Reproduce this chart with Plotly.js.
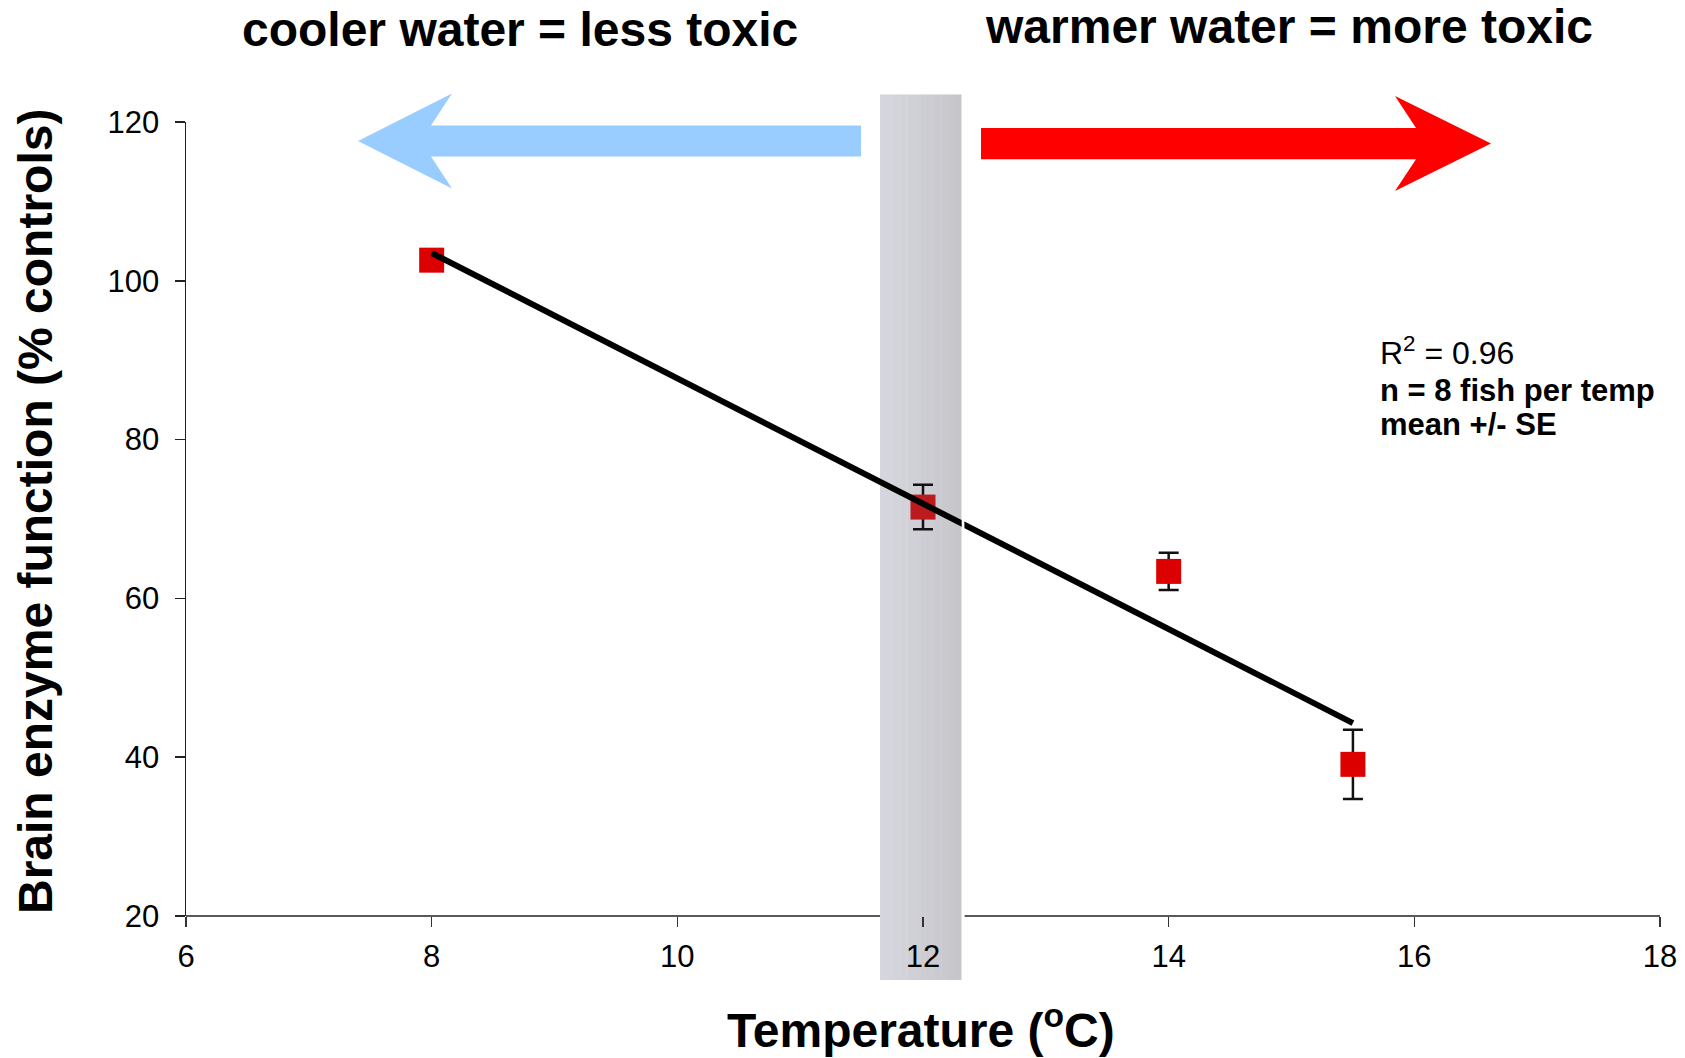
<!DOCTYPE html>
<html>
<head>
<meta charset="utf-8">
<script src="https://cdn.plot.ly/plotly-3.0.1.min.js"></script>
<style>
  html, body { margin: 0; padding: 0; background: #ffffff; }
  #chart { width: 1685px; height: 1058px; }
</style>
</head>
<body>
<div id="chart"></div>
<script>
// ---- data ----
const temperatureC = [8, 12, 14, 15.5];
const enzymePct = [102.6, 71.5, 63.4, 39.1];
const enzymeSE = [0, 2.8, 2.35, 4.35];
const trendX = [8, 15.5];
const trendY = [103.5, 44.3];
const xTickVals = [6, 8, 10, 12, 14, 16, 18];
const yTickVals = [20, 40, 60, 80, 100, 120];
const bandTemps = [11.65, 12.315];
const coolLabel = 'cooler water = less toxic';
const warmLabel = 'warmer water = more toxic';
const statLines = ['R<sup>2</sup> = 0.96', 'n = 8 fish per temp', 'mean +/- SE'];

// ---- layout geometry ----
const W = 1685, H = 1058;
const M = { l: 186, r: 25, t: 122, b: 142 };
const PW = W - M.l - M.r, PH = H - M.t - M.b;
const xRange = [6, 18], yRange = [20, 120];
const px = x => (x - M.l) / PW;            // page pixel -> paper x
const py = y => (H - M.b - y) / PH;        // page pixel -> paper y
const dx = v => (v - xRange[0]) / (xRange[1] - xRange[0]); // data -> paper x

const FONT = 'Arial, "Liberation Sans", Helvetica, sans-serif';

const shapes = [];
// grey band with a light horizontal gradient
const bandTop = py(94.6), bandBot = py(980);
const nStrips = 12;
const c0 = [214, 214, 222], c1 = [198, 198, 203];
for (let i = 0; i < nStrips; i++) {
  const t = i / (nStrips - 1);
  const c = c0.map((v, k) => Math.round(v + (c1[k] - v) * t));
  const a = dx(bandTemps[0]) + (dx(bandTemps[1]) - dx(bandTemps[0])) * i / nStrips;
  const b = dx(bandTemps[0]) + (dx(bandTemps[1]) - dx(bandTemps[0])) * (i + 1) / nStrips + 0.0003;
  shapes.push({ type: 'rect', xref: 'paper', yref: 'paper', x0: a, x1: Math.min(b, dx(bandTemps[1])),
    y0: bandBot, y1: bandTop, fillcolor: `rgb(${c.join(',')})`, line: { width: 0 }, layer: 'below' });
}
// x axis line drawn in two parts (hidden behind the band)
const gap = 2.7 / PW;
shapes.push({ type: 'line', xref: 'paper', yref: 'paper', x0: 0, x1: dx(bandTemps[0]), y0: 0, y1: 0,
  line: { color: '#222', width: 1.5 }, layer: 'above' });
shapes.push({ type: 'line', xref: 'paper', yref: 'paper', x0: dx(bandTemps[1]) + gap, x1: 1, y0: 0, y1: 0,
  line: { color: '#222', width: 1.5 }, layer: 'above' });
// thin white gap at the band's right edge
shapes.push({ type: 'rect', xref: 'paper', yref: 'paper', x0: dx(bandTemps[1]), x1: dx(bandTemps[1]) + gap,
  y0: bandBot, y1: bandTop, fillcolor: '#ffffff', line: { width: 0 }, layer: 'above' });

// arrows (page pixel outlines)
function arrowPath(pts) {
  return 'M' + pts.map(p => `${px(p[0])},${py(p[1])}`).join(' L') + ' Z';
}
shapes.push({ type: 'path', xref: 'paper', yref: 'paper', layer: 'above',
  path: arrowPath([[358, 141], [452, 93.5], [431, 125.5], [861, 125.5], [861, 156.5], [431, 156.5], [452, 188.5]]),
  fillcolor: '#99ccff', line: { width: 0 } });
shapes.push({ type: 'path', xref: 'paper', yref: 'paper', layer: 'above',
  path: arrowPath([[1491, 143.5], [1395, 96], [1416, 128], [981, 128], [981, 159.3], [1416, 159.3], [1395, 191]]),
  fillcolor: '#ff0000', line: { width: 0 } });

const annotations = [
  { text: '<b>' + coolLabel + '</b>', x: px(519.6), y: py(29), font: { size: 48, color: '#000', family: FONT } },
  { text: '<b>' + warmLabel + '</b>', x: px(1288.5), y: py(27), font: { size: 48, color: '#000', family: FONT } },
  { text: '<b>Temperature (<sup>o</sup>C)</b>', x: px(921), y: py(1027), font: { size: 48, color: '#000', family: FONT } },
  { text: '<b>Brain enzyme function (% controls)</b>', x: px(36), y: py(512), textangle: -90,
    font: { size: 48, color: '#000', family: FONT } },
  { text: statLines[0], x: px(1378), y: py(351), xanchor: 'left', font: { size: 32, color: '#000', family: FONT } },
  { text: '<b>' + statLines[1] + '</b>', x: px(1378), y: py(391), xanchor: 'left', font: { size: 31, color: '#000', family: FONT } },
  { text: '<b>' + statLines[2] + '</b>', x: px(1378), y: py(425), xanchor: 'left', font: { size: 31, color: '#000', family: FONT } }
].map(a => Object.assign({ xref: 'paper', yref: 'paper', showarrow: false, xanchor: 'center', yanchor: 'middle' }, a));

const traces = [
  {
    type: 'scatter', mode: 'markers', x: temperatureC, y: enzymePct,
    marker: { symbol: 'square', size: 25, color: ['#dd0000', '#bb1a1e', '#dd0000', '#dd0000'], line: { width: 0 } },
    error_y: { type: 'data', array: enzymeSE, visible: true, color: '#111', thickness: 2.5, width: 10 },
    hoverinfo: 'x+y', cliponaxis: false
  },
  {
    type: 'scatter', mode: 'lines', x: trendX, y: trendY,
    line: { color: '#000', width: 6 }, hoverinfo: 'skip'
  }
];

const layout = {
  width: W, height: H,
  margin: M,
  paper_bgcolor: '#ffffff', plot_bgcolor: 'rgba(0,0,0,0)',
  showlegend: false,
  font: { family: FONT, color: '#000' },
  xaxis: {
    range: xRange, tickvals: xTickVals, ticktext: xTickVals.map(String),
    showgrid: false, zeroline: false, showline: false,
    ticks: 'outside', ticklen: 10, tickwidth: 1.5, tickcolor: '#333',
    ticklabelstandoff: 3,
    tickfont: { size: 31, color: '#000', family: FONT }
  },
  yaxis: {
    range: yRange, tickvals: yTickVals, ticktext: yTickVals.map(String),
    showgrid: false, zeroline: false, showline: true, linecolor: '#222', linewidth: 1.5,
    ticks: 'outside', ticklen: 10, tickwidth: 1.5, tickcolor: '#222',
    ticklabelstandoff: 9,
    tickfont: { size: 31, color: '#000', family: FONT }
  },
  shapes: shapes,
  annotations: annotations
};

Plotly.newPlot('chart', traces, layout, { displayModeBar: false, staticPlot: true });
</script>
</body>
</html>
